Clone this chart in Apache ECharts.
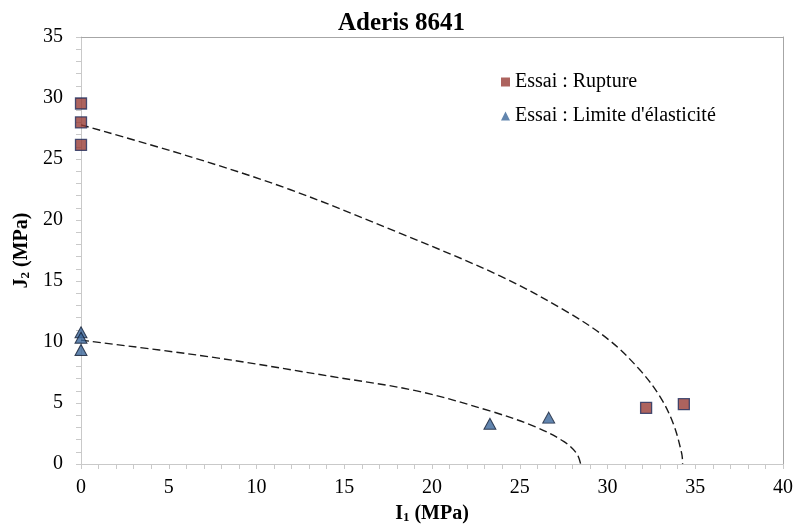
<!DOCTYPE html>
<html>
<head>
<meta charset="utf-8">
<script src="https://cdn.jsdelivr.net/npm/echarts@6/dist/echarts.min.js"></script>
<style>
html,body{margin:0;padding:0;background:#fff;}
#chart{width:796px;height:527px;}
</style>
</head>
<body>
<div id="chart"></div>
<script>
// ---- Data ----
var titleText = 'Aderis 8641';
var seriesNames = ['Essai : Rupture', "Essai : Limite d'élasticité"];
var xTicks = [0, 5, 10, 15, 20, 25, 30, 35, 40];
var yTicks = [0, 5, 10, 15, 20, 25, 30, 35];

var ruptureI1 = [0, 0, 0, 32.2, 34.35];
var ruptureJ2 = [29.55, 28.0, 26.15, 4.6, 4.9];

var limiteI1 = [0, 0, 0, 23.3, 26.65];
var limiteJ2 = [10.8, 10.35, 9.35, 3.3, 3.8];

var curveRuptureI1 = [0, 6.2, 11.9, 18.2, 23.9, 27.7, 30.1, 31.85, 33.0, 33.75, 34.23, 34.28];
var curveRuptureJ2 = [27.8, 25.2, 22.5, 18.9, 15.4, 12.47, 10.15, 7.7, 5.5, 3.3, 0.85, 0];

var curveLimiteI1 = [0, 7.35, 14.2, 19.13, 23.3, 25.9, 27.5, 28.25, 28.47];
var curveLimiteJ2 = [10.15, 8.78, 7.19, 5.99, 4.35, 3.04, 1.85, 0.85, 0];

function zip(a, b) { return a.map(function (v, i) { return [v, b[i]]; }); }

var serif = '"Liberation Serif", "Times New Roman", serif';
var axisGray = '#c9c9c9';
var borderGray = '#a6a6a6';

var chart = echarts.init(document.getElementById('chart'));
chart.setOption({
  animation: false,
  backgroundColor: '#fff',
  title: {
    text: titleText,
    left: 333,
    top: 6,
    textStyle: { fontFamily: serif, fontSize: 25, fontWeight: 'bold', color: '#000' }
  },
  legend: {
    orient: 'vertical',
    left: 496,
    top: 67,
    itemGap: 14,
    itemWidth: 9,
    itemHeight: 9,
    itemStyle: { borderWidth: 0 },
    data: [
      { name: seriesNames[0], icon: 'rect' },
      { name: seriesNames[1], icon: 'triangle' }
    ],
    textStyle: { fontFamily: serif, fontSize: 20, color: '#000', padding: [0, 0, 0, 0] }
  },
  grid: { left: 81, right: 13, top: 37, bottom: 63, containLabel: false, outerBoundsMode: 'none' },
  xAxis: [{
    type: 'value',
    min: xTicks[0], max: xTicks[xTicks.length - 1], interval: 5,
    name: '{b|I}{s|1}{b| (MPa)}',
    nameLocation: 'middle',
    nameGap: 39,
    nameTextStyle: {
      rich: {
        b: { fontFamily: serif, fontSize: 20, fontWeight: 'bold', color: '#000' },
        s: { fontFamily: serif, fontSize: 13, fontWeight: 'bold', color: '#000', verticalAlign: 'bottom', padding: [8, 0, 0, 0] }
      }
    },
    axisLine: { show: true, onZero: false, lineStyle: { color: axisGray, width: 1 } },
    axisTick: { show: true, length: 5, lineStyle: { color: axisGray } },
    minorTick: { show: true, splitNumber: 5, length: 5, lineStyle: { color: axisGray } },
    splitLine: { show: false },
    axisLabel: { fontFamily: serif, fontSize: 20, color: '#000', margin: 14 }
  }, {
    type: 'value', position: 'top',
    min: xTicks[0], max: xTicks[xTicks.length - 1], interval: 5,
    axisLine: { show: true, onZero: false, lineStyle: { color: borderGray } },
    axisTick: { show: false }, axisLabel: { show: false }, splitLine: { show: false }
  }],
  yAxis: [{
    type: 'value',
    min: yTicks[0], max: yTicks[yTicks.length - 1], interval: 5,
    name: '{b|J}{s|2}{b| (MPa)}',
    nameLocation: 'middle',
    nameGap: 49,
    nameTextStyle: {
      rich: {
        b: { fontFamily: serif, fontSize: 20, fontWeight: 'bold', color: '#000' },
        s: { fontFamily: serif, fontSize: 13, fontWeight: 'bold', color: '#000', verticalAlign: 'bottom', padding: [8, 0, 0, 0] }
      }
    },
    axisLine: { show: true, onZero: false, lineStyle: { color: axisGray, width: 1 } },
    axisTick: { show: true, length: 5, lineStyle: { color: axisGray } },
    minorTick: { show: true, splitNumber: 5, length: 5, lineStyle: { color: axisGray } },
    splitLine: { show: false },
    axisLabel: { fontFamily: serif, fontSize: 20, color: '#000', margin: 18 }
  }, {
    type: 'value', position: 'right',
    min: yTicks[0], max: yTicks[yTicks.length - 1], interval: 5,
    axisLine: { show: true, onZero: false, lineStyle: { color: borderGray } },
    axisTick: { show: false }, axisLabel: { show: false }, splitLine: { show: false }
  }],
  series: [
    {
      name: 'curveRupture', type: 'line', data: zip(curveRuptureI1, curveRuptureJ2),
      showSymbol: false, smooth: 0.35, silent: true,
      lineStyle: { color: '#1a1a1a', width: 1.4, type: [8, 4] }, z: 2
    },
    {
      name: 'curveLimite', type: 'line', data: zip(curveLimiteI1, curveLimiteJ2),
      showSymbol: false, smooth: 0.35, silent: true,
      lineStyle: { color: '#1a1a1a', width: 1.4, type: [8, 4] }, z: 2
    },
    {
      name: seriesNames[0], type: 'scatter', data: zip(ruptureI1, ruptureJ2),
      symbol: 'rect', symbolSize: 11,
      itemStyle: { color: '#993c36', borderColor: '#1f2d5c', borderWidth: 1.3 }, z: 3
    },
    {
      name: seriesNames[1], type: 'scatter', data: zip(limiteI1, limiteJ2),
      symbol: 'triangle', symbolSize: [12, 11],
      itemStyle: { color: '#3b679a', borderColor: '#111d33', borderWidth: 1 }, z: 3
    }
  ]
});
</script>
</body>
</html>
